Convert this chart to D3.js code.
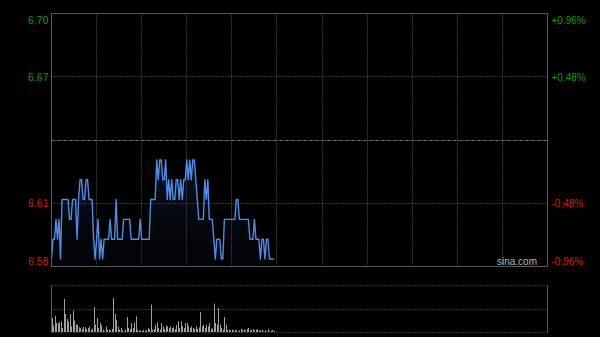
<!DOCTYPE html>
<html><head><meta charset="utf-8">
<script src="https://cdn.jsdelivr.net/npm/d3@7"></script>
<style>html,body{margin:0;padding:0;background:#000;}svg{display:block;}</style>
</head><body>
<svg id="c" width="600" height="337"></svg>
<script>
// ---- data ----
const prevClose = 6.64;
const pctTicks = [0.96, 0.48, -0.48, -0.96];
const priceTickLabels = ["6.70", "6.67", "6.61", "6.58"];
const pctTickLabels = ["+0.96%", "+0.48%", "-0.48%", "-0.96%"];
const totalMinutes = 330;
const gridMinutes = [30, 60, 90, 120, 150, 180, 210, 240, 270, 300];
const prices = [
 6.58,6.59,6.59,6.60,6.59,6.60,6.58,6.61,6.61,6.61,
 6.61,6.61,6.60,6.60,6.61,6.61,6.61,6.59,6.61,6.62,
 6.62,6.61,6.61,6.62,6.62,6.61,6.61,6.61,6.59,6.58,
 6.59,6.60,6.58,6.59,6.58,6.59,6.59,6.59,6.59,6.60,
 6.59,6.59,6.59,6.61,6.59,6.59,6.59,6.59,6.60,6.60,
 6.60,6.60,6.60,6.59,6.59,6.59,6.59,6.59,6.59,6.60,
 6.59,6.59,6.59,6.59,6.59,6.59,6.61,6.61,6.61,6.61,
 6.63,6.62,6.63,6.63,6.62,6.62,6.63,6.61,6.62,6.61,
 6.62,6.61,6.61,6.62,6.62,6.61,6.62,6.61,6.62,6.62,
 6.63,6.62,6.63,6.62,6.63,6.63,6.62,6.61,6.60,6.60,
 6.60,6.60,6.62,6.61,6.62,6.60,6.60,6.60,6.59,6.58,
 6.59,6.59,6.59,6.58,6.58,6.60,6.60,6.60,6.60,6.60,
 6.60,6.60,6.60,6.61,6.61,6.60,6.60,6.60,6.60,6.60,
 6.60,6.60,6.59,6.59,6.59,6.60,6.59,6.59,6.59,6.58,
 6.59,6.59,6.58,6.59,6.59,6.58,6.58,6.58,6.58
];
const volumes = [
 42,20,49,27,27,29,32,12,99,54,
 39,32,54,17,64,35,22,22,14,12,
 9,15,14,9,12,17,7,10,75,22,
 42,12,27,20,7,2,17,7,7,5,
 9,102,54,35,17,7,12,5,2,7,
 45,12,9,27,12,29,47,7,4,5,
 3,7,3,6,12,8,82,7,9,22,
 29,12,7,27,17,9,19,17,12,17,
 12,14,9,20,32,12,32,17,12,27,
 27,17,12,17,12,9,17,10,14,60,
 17,22,12,22,17,27,9,11,85,27,
 22,72,22,12,7,45,22,7,7,5,
 7,5,7,5,2,5,9,7,7,5,
 9,12,5,7,9,5,7,9,5,5,
 7,2,5,2,9,2,4,6,3
];
const volMax = 141;

// ---- layout ----
const svg = d3.select("#c");
const L = 51.5, R = 547.5, T = 13.5, B = 266.5;
const VT = 285.5, VB = 332.5;

const x = d3.scaleLinear().domain([0, totalMinutes]).range([L, R]);
const y = d3.scaleLinear()
  .domain([prevClose * (1 - 0.0096), prevClose * (1 + 0.0096)])
  .range([B, T]);
const yv = d3.scaleLinear().domain([0, volMax]).range([VB - 0.5, VT - 0.5]);
const snap = v => Math.round(v - 0.5) + 0.5;

// defs gradient
const defs = svg.append("defs");
const g = defs.append("linearGradient").attr("id", "ag").attr("x1", 0).attr("y1", 0).attr("x2", 0).attr("y2", 1);
g.append("stop").attr("offset", "0%").attr("stop-color", "#1a3a6e").attr("stop-opacity", 0.35);
g.append("stop").attr("offset", "100%").attr("stop-color", "#0a1020").attr("stop-opacity", 0.15);

// vertical grid
svg.append("g").selectAll("line").data(gridMinutes).join("line")
  .attr("x1", d => snap(x(d))).attr("x2", d => snap(x(d)))
  .attr("y1", T).attr("y2", B)
  .attr("stroke", "#3a3a3a").attr("stroke-width", 1).attr("stroke-dasharray", "2,1");

// horizontal grid
svg.append("g").selectAll("line").data(pctTicks.slice(1, 3)).join("line")
  .attr("x1", L).attr("x2", R)
  .attr("y1", d => snap(y(prevClose * (1 + d / 100))))
  .attr("y2", d => snap(y(prevClose * (1 + d / 100))))
  .attr("stroke", "#6a6a6a").attr("stroke-width", 1).attr("stroke-dasharray", "1,2");
// prev close line
svg.append("line")
  .attr("x1", L).attr("x2", R)
  .attr("y1", snap(y(prevClose))).attr("y2", snap(y(prevClose)))
  .attr("stroke", "#777").attr("stroke-width", 1).attr("stroke-dasharray", "3,1,1,1");

// area + line
const area = d3.area().x((d, i) => x(i)).y0(B).y1(d => y(d));
svg.append("path").datum(prices).attr("d", area).attr("fill", "url(#ag)");
const line = d3.line().x((d, i) => x(i)).y(d => y(d));
svg.append("path").datum(prices).attr("d", line)
  .attr("fill", "none").attr("stroke", "#4f8ce6").attr("stroke-width", 1.4)
  .attr("stroke-linejoin", "round");

// main frame
svg.append("rect").attr("x", L).attr("y", T).attr("width", R - L).attr("height", B - T)
  .attr("fill", "none").attr("stroke", "#5a5a5a").attr("stroke-width", 1);

// axes labels
const tickPrices = pctTicks.map(p => prevClose * (1 + p / 100));
const colorFor = i => pctTicks[i] > 0 ? "#119c11" : "#d81818";
const offs = [6, 0, 0, -6];

const ax = svg.append("g").attr("transform", `translate(${L - 3},0)`)
  .call(d3.axisLeft(y).tickValues(tickPrices).tickFormat((d, i) => priceTickLabels[i]).tickSize(0).tickPadding(0));
ax.select(".domain").remove();
ax.selectAll(".tick text")
  .attr("fill", (d, i) => colorFor(i))
  .attr("font-family", "Liberation Sans, Arial, sans-serif").attr("font-size", 10.5)
  .attr("dy", (d, i) => (offs[i] + 3.5) + "px");

const axr = svg.append("g").attr("transform", `translate(${R + 4},0)`)
  .call(d3.axisRight(y).tickValues(tickPrices).tickFormat((d, i) => pctTickLabels[i]).tickSize(0).tickPadding(0));
axr.select(".domain").remove();
axr.selectAll(".tick text")
  .attr("fill", (d, i) => colorFor(i))
  .attr("font-family", "Liberation Sans, Arial, sans-serif").attr("font-size", 10)
  .attr("dy", (d, i) => (offs[i] + 3.5) + "px");

// watermark
svg.append("text").attr("x", 537).attr("y", 265).attr("text-anchor", "end")
  .attr("fill", "#b8b8b8").attr("font-family", "Liberation Sans, Arial, sans-serif")
  .attr("font-size", 10).text("sina.com");

// volume panel
svg.append("g").selectAll("line").data([VT, (VT + VB) / 2 - 0.5 + 0.5, VB]).join("line")
  .attr("x1", L).attr("x2", R).attr("y1", d => snap(d)).attr("y2", d => snap(d))
  .attr("stroke", "#666").attr("stroke-dasharray", "1,2");
svg.append("line").attr("x1", L).attr("x2", L).attr("y1", VT).attr("y2", VB).attr("stroke", "#5a5a5a");
svg.append("line").attr("x1", R).attr("x2", R).attr("y1", VT).attr("y2", VB).attr("stroke", "#5a5a5a");
svg.append("g").selectAll("rect").data(volumes).join("rect")
  .attr("x", (d, i) => Math.round(x(i)))
  .attr("width", 1)
  .attr("y", d => yv(d))
  .attr("height", d => (VB - 0.5) - yv(d))
  .attr("fill", "#a0a0a0");
</script>
</body></html>
